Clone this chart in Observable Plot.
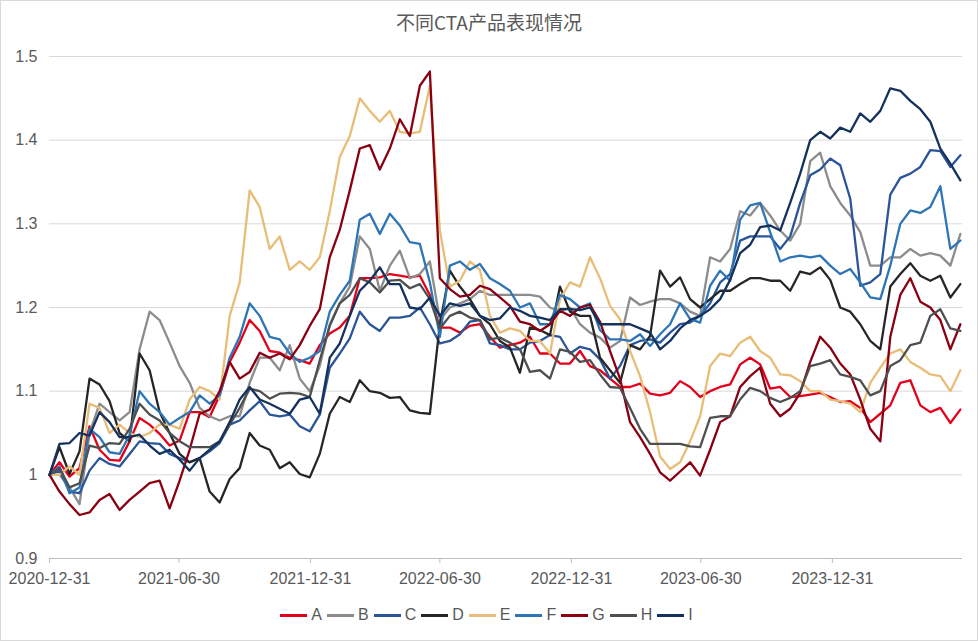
<!DOCTYPE html>
<html><head><meta charset="utf-8">
<script src="https://cdn.jsdelivr.net/npm/d3@7"></script>
<script src="https://cdn.jsdelivr.net/npm/@observablehq/plot@0.6"></script>
<style>
body{margin:0;background:#fff;}
#wrap{width:978px;height:641px;position:relative;background:#fff;font-family:"Liberation Sans",Arial,sans-serif;overflow:hidden;}
#frame{position:absolute;left:0;top:0;width:978px;height:641px;box-sizing:border-box;border:1px solid #d9d9d9;pointer-events:none;}
#title{position:absolute;left:0;top:0;width:978px;height:40px;line-height:44px;text-align:center;font-family:"Noto Sans CJK SC",sans-serif;font-size:19px;color:#595959;}
#chart{position:absolute;left:0;top:40px;}
#legend{position:absolute;left:0;top:602px;width:978px;height:26px;display:flex;justify-content:center;align-items:center;font-size:16px;color:#595959;}
.item{display:flex;align-items:center;margin-right:5px;}
.sw{width:27px;height:3px;margin-right:4px;}
</style></head>
<body><div id="wrap"><div id="title">不同CTA产品表现情况</div><div id="chart"></div><div id="legend"></div><div id="frame"></div></div>
<script>
const names = ["A","B","C","D","E","F","G","H","I"];
const colors = ["#e3001b","#8c8c8c","#2a5599","#262626","#e8bd78","#2e75b6","#8a0012","#4f4f4f","#15325d"];
const startDate = "2020-12-31";
const stepDays = 14;
const xTickLabels = ["2020-12-31","2021-06-30","2021-12-31","2022-06-30","2022-12-31","2023-06-30","2023-12-31"];
const yTicks = [0.9,1.0,1.1,1.2,1.3,1.4,1.5];

const A = [1.00,1.015,0.998,1.008,1.058,1.03,1.018,1.017,1.04,1.068,
 1.06,1.049,1.035,1.041,1.075,1.075,1.069,1.095,1.135,1.158,
 1.185,1.172,1.148,1.146,1.14,1.137,1.133,1.155,1.169,1.176,
 1.19,1.235,1.235,1.236,1.24,1.238,1.236,1.238,1.215,1.176,
 1.176,1.17,1.178,1.18,1.165,1.152,1.155,1.158,1.165,1.145,
 1.145,1.133,1.133,1.148,1.13,1.125,1.115,1.105,1.105,1.109,
 1.097,1.095,1.098,1.112,1.105,1.093,1.1,1.105,1.108,1.132,
 1.14,1.132,1.103,1.105,1.093,1.094,1.096,1.098,1.093,1.087,
 1.088,1.08,1.063,1.073,1.083,1.11,1.113,1.083,1.075,1.08,
 1.062,1.078];
const B = [1.0,1.0,0.985,0.965,1.05,1.085,1.075,1.065,1.075,1.15,
 1.195,1.185,1.158,1.13,1.11,1.08,1.07,1.065,1.07,1.07,
 1.11,1.14,1.14,1.125,1.155,1.115,1.1,1.13,1.18,1.205,
 1.225,1.285,1.27,1.22,1.25,1.268,1.235,1.24,1.255,1.185,
 1.2,1.205,1.21,1.22,1.215,1.215,1.215,1.215,1.215,1.213,
 1.2,1.195,1.2,1.18,1.17,1.164,1.152,1.16,1.212,1.203,
 1.207,1.21,1.21,1.205,1.195,1.19,1.26,1.255,1.27,1.315,
 1.31,1.325,1.31,1.292,1.28,1.3,1.375,1.385,1.345,1.325,
 1.31,1.29,1.25,1.25,1.26,1.26,1.27,1.262,1.265,1.262,
 1.25,1.288];
const C = [1.0,1.005,0.98,0.978,1.005,1.02,1.013,1.01,1.025,1.04,
 1.038,1.037,1.025,1.02,1.015,1.02,1.028,1.038,1.06,1.065,
 1.077,1.088,1.072,1.07,1.072,1.058,1.052,1.072,1.128,1.145,
 1.163,1.195,1.18,1.172,1.188,1.188,1.19,1.2,1.18,1.157,
 1.16,1.168,1.183,1.185,1.157,1.155,1.15,1.15,1.158,1.16,
 1.167,1.165,1.145,1.153,1.15,1.138,1.115,1.13,1.155,1.16,
 1.162,1.158,1.17,1.18,1.182,1.19,1.205,1.23,1.24,1.28,
 1.285,1.285,1.285,1.27,1.285,1.325,1.358,1.365,1.378,1.37,
 1.33,1.226,1.23,1.24,1.335,1.355,1.36,1.368,1.388,1.387,
 1.368,1.382];
const D = [1.0,1.033,1.001,1.028,1.115,1.108,1.088,1.05,1.04,1.145,
 1.125,1.075,1.05,1.025,1.015,1.02,0.98,0.967,0.995,1.008,
 1.05,1.035,1.03,1.008,1.015,1.001,0.997,1.025,1.073,1.093,
 1.087,1.113,1.1,1.098,1.092,1.093,1.077,1.074,1.073,1.18,
 1.244,1.225,1.21,1.19,1.18,1.16,1.152,1.122,1.176,1.173,
 1.167,1.225,1.195,1.19,1.19,1.14,1.125,1.11,1.155,1.15,
 1.166,1.244,1.225,1.236,1.21,1.2,1.21,1.22,1.22,1.228,
 1.235,1.235,1.232,1.232,1.22,1.243,1.24,1.248,1.233,1.2,
 1.195,1.18,1.16,1.15,1.225,1.24,1.253,1.238,1.232,1.238,
 1.212,1.228];
const E = [1.0,1.0,1.01,1.0,1.085,1.08,1.05,1.06,1.05,1.045,
 1.05,1.06,1.06,1.055,1.09,1.105,1.1,1.09,1.19,1.23,
 1.34,1.32,1.27,1.285,1.245,1.255,1.245,1.26,1.315,1.38,
 1.405,1.45,1.435,1.422,1.435,1.41,1.408,1.41,1.465,1.292,
 1.225,1.232,1.255,1.245,1.19,1.17,1.175,1.172,1.16,1.16,
 1.145,1.21,1.23,1.225,1.26,1.235,1.202,1.186,1.148,1.118,
 1.075,1.022,1.007,1.015,1.04,1.07,1.13,1.145,1.142,1.158,
 1.165,1.148,1.14,1.12,1.119,1.112,1.1,1.1,1.09,1.088,
 1.085,1.075,1.11,1.128,1.145,1.15,1.135,1.128,1.12,1.118,
 1.1,1.125];
const F = [1.0,1.01,0.978,0.985,1.055,1.045,1.027,1.025,1.048,1.1,
 1.085,1.075,1.06,1.068,1.075,1.095,1.085,1.095,1.14,1.165,
 1.205,1.19,1.165,1.162,1.145,1.135,1.14,1.148,1.195,1.215,
 1.232,1.305,1.312,1.288,1.312,1.298,1.278,1.276,1.23,1.165,
 1.25,1.255,1.245,1.252,1.235,1.228,1.22,1.2,1.205,1.18,
 1.18,1.215,1.21,1.2,1.205,1.173,1.162,1.162,1.16,1.168,
 1.154,1.168,1.18,1.205,1.186,1.182,1.226,1.244,1.232,1.305,
 1.322,1.325,1.29,1.255,1.26,1.262,1.26,1.262,1.25,1.24,
 1.246,1.23,1.212,1.21,1.25,1.3,1.316,1.313,1.32,1.345,
 1.27,1.28];
const G = [1.0,0.98,0.965,0.952,0.955,0.97,0.977,0.958,0.97,0.98,
 0.99,0.993,0.96,0.993,1.03,1.073,1.078,1.1,1.135,1.115,
 1.123,1.146,1.14,1.145,1.138,1.155,1.178,1.198,1.26,1.293,
 1.34,1.39,1.394,1.365,1.39,1.425,1.405,1.465,1.482,1.235,
 1.222,1.213,1.215,1.226,1.222,1.212,1.202,1.183,1.18,1.172,
 1.18,1.196,1.19,1.2,1.203,1.183,1.148,1.115,1.063,1.045,
 1.025,1.003,0.993,1.004,1.015,0.999,1.03,1.063,1.07,1.105,
 1.118,1.128,1.085,1.07,1.079,1.098,1.135,1.165,1.152,1.133,
 1.12,1.09,1.055,1.04,1.165,1.215,1.235,1.207,1.2,1.185,
 1.15,1.18];
const H = [1.0,1.008,0.985,0.99,1.035,1.032,1.038,1.037,1.055,1.085,
 1.072,1.065,1.05,1.04,1.033,1.033,1.033,1.04,1.06,1.08,
 1.103,1.1,1.091,1.097,1.098,1.097,1.093,1.137,1.178,1.205,
 1.215,1.235,1.23,1.218,1.232,1.233,1.223,1.228,1.21,1.175,
 1.19,1.195,1.188,1.185,1.162,1.164,1.158,1.15,1.123,1.125,
 1.115,1.15,1.147,1.135,1.137,1.12,1.105,1.104,1.08,1.055,
 1.037,1.037,1.037,1.037,1.034,1.033,1.068,1.07,1.07,1.09,
 1.104,1.1,1.092,1.087,1.092,1.1,1.13,1.133,1.137,1.12,
 1.117,1.113,1.095,1.1,1.13,1.137,1.155,1.158,1.19,1.198,
 1.175,1.172];
const I = [1.0,1.037,1.038,1.05,1.047,1.075,1.063,1.045,1.045,1.048,
 1.035,1.025,1.03,1.018,1.005,1.02,1.03,1.04,1.063,1.09,
 1.105,1.09,1.085,1.079,1.073,1.09,1.093,1.073,1.14,1.157,
 1.19,1.22,1.232,1.248,1.228,1.228,1.2,1.198,1.212,1.19,
 1.205,1.202,1.205,1.19,1.185,1.187,1.2,1.196,1.19,1.188,
 1.185,1.198,1.198,1.197,1.2,1.18,1.18,1.18,1.18,1.175,
 1.17,1.15,1.16,1.175,1.185,1.19,1.198,1.21,1.233,1.265,
 1.275,1.296,1.298,1.292,1.325,1.36,1.4,1.41,1.402,1.415,
 1.41,1.432,1.422,1.435,1.462,1.459,1.447,1.437,1.422,1.39,
 1.372,1.352];

const seriesList = [A,B,C,D,E,F,G,H,I];
const parse = d3.utcParse("%Y-%m-%d");
const t0 = parse(startDate);
const dates = A.map((_, i) => d3.utcDay.offset(t0, stepDays * i));
const rows = [];
names.forEach((n, k) => seriesList[k].forEach((v, i) => rows.push({series: n, date: dates[i], value: v})));

const chart = Plot.plot({
  width: 978, height: 548,
  marginTop: 16, marginBottom: 30, marginLeft: 49, marginRight: 16,
  style: {fontFamily: "Liberation Sans, Arial, sans-serif", fontSize: "16px", color: "#595959", background: "transparent", overflow: "visible"},
  x: {type: "utc", domain: [parse("2020-12-31"), parse("2024-06-30")]},
  y: {domain: [0.9, 1.5]},
  color: {domain: names, range: colors},
  marks: [
    Plot.gridY(yTicks.slice(1), {stroke: "#d9d9d9", strokeOpacity: 1, strokeWidth: 1}),
    Plot.ruleY([0.9], {stroke: "#bfbfbf", strokeWidth: 1}),
    Plot.axisY(yTicks, {tickSize: 0, tickPadding: 12, tickFormat: d3.format("~g"), label: null, fill: "#595959"}),
    Plot.axisX(xTickLabels.map(parse), {tickSize: 5, tickPadding: 9, tickFormat: d3.utcFormat("%Y-%m-%d"), label: null, stroke: "#bfbfbf", fill: "#595959"}),
    Plot.lineY(rows, {x: "date", y: "value", z: "series", stroke: "series", strokeWidth: 2.3, strokeLinejoin: "round"})
  ]
});
document.getElementById("chart").appendChild(chart);

const legend = document.getElementById("legend");
names.forEach((n, k) => {
  const it = document.createElement("div"); it.className = "item";
  const sw = document.createElement("div"); sw.className = "sw"; sw.style.background = colors[k];
  const lb = document.createElement("span"); lb.textContent = n;
  it.appendChild(sw); it.appendChild(lb); legend.appendChild(it);
});
</script></body></html>
